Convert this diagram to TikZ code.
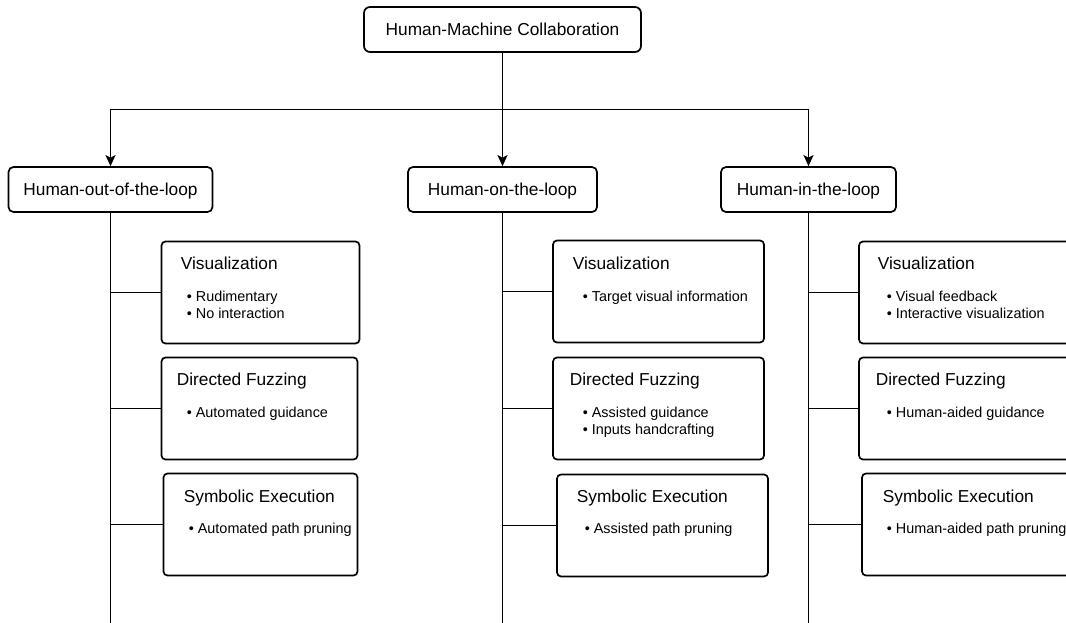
\documentclass[tikz,border=0pt]{standalone}
\usepackage{fontspec}
\setmainfont{Liberation Sans}
\usetikzlibrary{arrows.meta}
\begin{document}
\begin{tikzpicture}[x=1pt,y=-1pt,
  line width=1.7pt,
  box/.style={draw, rounded corners=5pt, inner sep=0pt},
  level/.style={box, minimum height=45pt, text height=12.4pt, text depth=0pt,
                font=\fontsize{17.3}{20}\selectfont},
  card/.style={box, rounded corners=4pt},
  head/.style={font=\fontsize{17.3}{20}\selectfont, inner sep=0pt, anchor=base west},
  item/.style={font=\fontsize{14.4}{17}\selectfont, inner sep=0pt, anchor=base west},
  link/.style={-{Stealth[length=11pt,width=10pt,inset=2.5pt]}}]
\useasboundingbox (0,0) rectangle (1066,623);
\clip (0,0) rectangle (1066,623);

% root and the three collaboration levels
\node[level, minimum width=277pt, rounded corners=6pt] (root) at (502.5,29.5) {Human-Machine Collaboration};
\node[level, minimum width=204pt] (out) at (110.5,189.5) {Human-out-of-the-loop};
\node[level, minimum width=189pt] (on)  at (502.5,189.5) {Human-on-the-loop};
\node[level, minimum width=175pt] (in)  at (808.5,189.5) {Human-in-the-loop};

\coordinate (hub) at (502.5,109.5);
\draw[link] (root) -- (on);
\draw[link] (hub) -| (out.north);
\draw[link] (hub) -| (in.north);

% trunks running down each column
\coordinate (outEnd) at (110.5,623);
\coordinate (onEnd)  at (502.5,623);
\coordinate (inEnd)  at (808.5,623);
\draw (out.south) -- (outEnd);
\draw (on.south)  -- (onEnd);
\draw (in.south)  -- (inEnd);

% ---- Human-out-of-the-loop ----
\node[card, minimum width=198pt, minimum height=102pt] (v1) at (260.5,292.5) {};
\node[card, minimum width=196pt, minimum height=102pt] (f1) at (259.5,408.5) {};
\node[card, minimum width=194pt, minimum height=102pt] (s1) at (260.5,524.5) {};
\draw (out.south |- v1.west) -- (v1.west);
\draw (out.south |- f1.west) -- (f1.west);
\draw (out.south |- s1.west) -- (s1.west);
\node[head] (v1h) at (180,269) {Visualization};
\node[item] (v1a) at (186,301) {• Rudimentary};
\node[item] (v1b) at (186,318) {• No interaction};
\node[head] (f1h) at (176,385) {Directed Fuzzing};
\node[item] (f1a) at (186,417) {• Automated guidance};
\node[head] (s1h) at (183,502) {Symbolic Execution};
\node[item] (s1a) at (188,533) {• Automated path pruning};

% ---- Human-on-the-loop ----
\node[card, minimum width=211pt, minimum height=102pt] (v2) at (658.5,291.5) {};
\node[card, minimum width=211pt, minimum height=102pt] (f2) at (658.5,408.5) {};
\node[card, minimum width=211pt, minimum height=102pt] (s2) at (662.5,525.5) {};
\draw (on.south |- v2.west) -- (v2.west);
\draw (on.south |- f2.west) -- (f2.west);
\draw (on.south |- s2.west) -- (s2.west);
\node[head] (v2h) at (572,269) {Visualization};
\node[item] (v2a) at (582,301) {• Target visual information};
\node[head] (f2h) at (569,385) {Directed Fuzzing};
\node[item] (f2a) at (582,417) {• Assisted guidance};
\node[item] (f2b) at (582,434) {• Inputs handcrafting};
\node[head] (s2h) at (576,502) {Symbolic Execution};
\node[item] (s2a) at (584,533) {• Assisted path pruning};

% ---- Human-in-the-loop ----
\node[card, minimum width=211pt, minimum height=102pt] (v3) at (964.5,292.5) {};
\node[card, minimum width=211pt, minimum height=102pt] (f3) at (964.5,408.5) {};
\node[card, minimum width=211pt, minimum height=102pt] (s3) at (967.5,524.5) {};
\draw (in.south |- v3.west) -- (v3.west);
\draw (in.south |- f3.west) -- (f3.west);
\draw (in.south |- s3.west) -- (s3.west);
\node[head] (v3h) at (877,269) {Visualization};
\node[item] (v3a) at (886,301) {• Visual feedback};
\node[item] (v3b) at (886,318) {• Interactive visualization};
\node[head] (f3h) at (875,385) {Directed Fuzzing};
\node[item] (f3a) at (886,417) {• Human-aided guidance};
\node[head] (s3h) at (882,502) {Symbolic Execution};
\node[item] (s3a) at (886,533) {• Human-aided path pruning};
\end{tikzpicture}
\end{document}
